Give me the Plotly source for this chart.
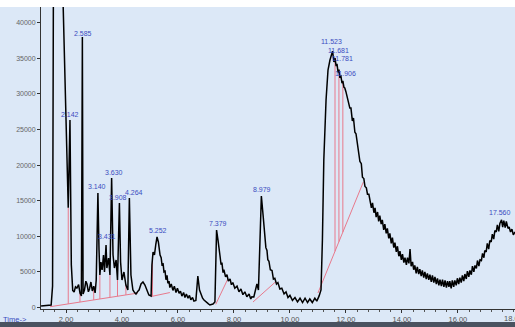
import numpy as np
import plotly.graph_objects as go

# ---- chromatogram trace (time in min, abundance), in segments ----
seg1_time = [1.11, 1.20, 1.30, 1.40, 1.47, 1.52, 1.55, 1.60, 1.85, 1.90, 2.02, 2.08, 2.142, 2.19, 2.24,
             2.29, 2.34, 2.39, 2.45, 2.50, 2.55, 2.585, 2.61, 2.66, 2.71, 2.75, 2.80, 2.84, 2.89, 2.94,
             2.99, 3.04, 3.08]
seg1_abund = [210, 250, 190, 280, 350, 3000, 45000, 60000, 60000, 42160, 20700, 14000, 26325, 6000, 2400,
              2180, 2900, 2740, 3200, 2040, 1610, 37980, 1900, 2460, 3700, 3300, 2200, 2600, 3580, 2320,
              3000, 2040, 3860]

seg2_time = [3.14, 3.18, 3.21, 3.25, 3.29, 3.34, 3.375, 3.431, 3.46, 3.52, 3.57, 3.63, 3.68, 3.73, 3.79,
             3.84, 3.908, 3.95, 4.00, 4.07, 4.14, 4.21, 4.264, 4.32, 4.39, 4.45, 4.50, 4.57, 4.61, 4.68,
             4.75, 4.82, 4.89, 4.96, 5.04]
seg2_abund = [16080, 8070, 4560, 6390, 5265, 7370, 4980, 8775, 5545, 6950, 4560, 18180, 7370, 5545, 6670,
              3860, 14670, 6390, 3860, 4980, 3160, 2460, 15370, 4560, 2460, 2100, 1900, 2300, 2460, 3300,
              3580, 3160, 2320, 1755, 1615]

seg3_time = [5.07, 5.11, 5.16, 5.21, 5.252, 5.30, 5.36, 5.40, 5.43, 5.47, 5.50, 5.54, 5.57, 5.61, 5.64,
             5.68, 5.71, 5.76, 5.82, 5.87, 5.93, 5.98, 6.04, 6.09, 6.14, 6.20, 6.25, 6.30, 6.36, 6.41,
             6.46, 6.52, 6.57, 6.64, 6.68, 6.71, 6.77, 6.82, 6.88, 6.93, 6.99, 7.04, 7.09, 7.14, 7.20,
             7.25, 7.32]
seg3_abund = [5970, 7790, 7370, 8915, 9900, 9200, 7370, 7000, 6000, 6100, 5000, 5100, 3900, 4500, 3400,
              3700, 2800, 3300, 2400, 3000, 2100, 2700, 2000, 2300, 1600, 2100, 1400, 1900, 1300, 1700,
              1100, 1400, 900, 1000, 3860, 4420, 2460, 1755, 1300, 1050, 800, 630, 500, 350, 450,
              490, 770]

seg4_time = [7.379, 7.43, 7.47, 7.50, 7.54, 7.57, 7.61, 7.64, 7.70, 7.75, 7.80, 7.86, 7.91, 7.96, 8.03,
             8.11, 8.18, 8.25, 8.32, 8.39, 8.46, 8.54, 8.60, 8.64, 8.71, 8.79, 8.82, 8.875, 8.93]
seg4_abund = [10880, 9475, 7800, 7300, 6000, 6300, 4900, 5300, 4300, 4600, 3700, 4000, 3200, 3500, 2700,
              3000, 2200, 2600, 1800, 2200, 1500, 1900, 1200, 1500, 1475, 2740, 3300, 2460, 9475]

seg5_time = [8.979, 9.04, 9.11, 9.14, 9.18, 9.21, 9.25, 9.30, 9.36, 9.41, 9.46, 9.52, 9.57, 9.64, 9.71,
             9.79, 9.86, 9.93, 10.00, 10.09, 10.18, 10.27, 10.36, 10.45, 10.54, 10.63, 10.71, 10.80,
             10.89, 10.96, 11.04, 11.11]
seg5_abund = [15650, 12990, 9475, 8400, 8000, 6700, 6500, 5300, 5200, 4000, 4100, 3300, 3500, 2600, 2700,
              1900, 2200, 1400, 1700, 1000, 1400, 800, 1300, 700, 1300, 700, 1200, 700,
              1300, 900, 1600, 2460]

seg6_time = [11.16, 11.21, 11.29, 11.36, 11.43, 11.48, 11.523, 11.57, 11.61, 11.65, 11.68, 11.72, 11.75,
             11.78, 11.82, 11.86, 11.89, 11.93, 11.96, 12.00, 12.05, 12.09, 12.14, 12.18, 12.23, 12.27,
             12.32, 12.36, 12.41, 12.45, 12.50, 12.55, 12.59, 12.64, 12.68, 12.73, 12.77, 12.82, 12.86]
seg6_abund = [9475, 20700, 29130, 33345, 34750, 35600, 36000, 34470, 35030, 33900, 34200, 33000, 33400,
              32400, 32500, 31500, 31800, 30900, 30820, 30300, 29500, 29000, 28000, 28000, 26200, 26600,
              24600, 24400, 23000, 22400, 20500, 20200, 18300, 18100, 17000, 16800, 15900, 15900, 15000]

seg7_time = [12.91, 12.95, 13.00, 13.04, 13.08, 13.13, 13.17, 13.21, 13.26, 13.30, 13.35, 13.39, 13.44,
             13.48, 13.53, 13.57, 13.62, 13.66, 13.71, 13.75, 13.80, 13.84, 13.89, 13.93, 13.98, 14.02,
             14.07, 14.11, 14.16, 14.20, 14.25, 14.29, 14.33, 14.38, 14.42, 14.46, 14.51, 14.55, 14.60,
             14.64, 14.69, 14.73, 14.78, 14.82, 14.87, 14.91, 14.96, 15.00, 15.05, 15.09, 15.14, 15.18,
             15.23, 15.27, 15.32, 15.36, 15.41, 15.45, 15.50, 15.54, 15.59, 15.63, 15.68, 15.71, 15.76,
             15.80, 15.85, 15.89, 15.94, 15.98, 16.03, 16.07, 16.12, 16.16, 16.21, 16.25, 16.30, 16.34,
             16.39, 16.43, 16.48, 16.52, 16.57, 16.61, 16.66, 16.70, 16.75, 16.79, 16.84, 16.88, 16.93,
             16.96, 17.01, 17.05, 17.10, 17.14, 17.19, 17.23, 17.28, 17.32, 17.37, 17.41, 17.46, 17.50,
             17.56, 17.60, 17.64, 17.69, 17.73, 17.79, 17.83, 17.88, 17.93, 17.98, 18.04]
seg7_abund = [14000, 14700, 13300, 14000, 12700, 13400, 12100, 12900, 11700, 12300, 10900, 11700, 10400,
              11100, 9700, 10400, 9000, 9800, 8400, 9100, 7800, 8600, 7200, 7900, 6700, 7500,
              6300, 7000, 6000, 7000, 6200, 8200, 5800, 6400, 5300, 5900, 4800, 5700, 4700,
              5400, 4400, 5200, 4200, 5000, 4000, 4800, 3900, 4600, 3600, 4500, 3500, 4300,
              3300, 4100, 3100, 3900, 3000, 3900, 2900, 3800, 2800, 3700, 2900, 3700, 2700,
              3800, 2900, 3800, 3100, 4100, 3300, 4200, 3500, 4500, 3700, 4700, 4000, 5100,
              4300, 5200, 4600, 5800, 5000, 5900, 5500, 6600, 5800, 6700, 6600, 7600, 7000,
              8000, 7800, 9000, 8200, 9400, 9200, 10300, 9600, 10800, 10600, 11600, 10700, 11800,
              12300, 11300, 12200, 11200, 12100, 11100, 11300, 10600, 11000, 10200, 10600]

# ---- integration baselines (pink) ----
base_t0 = [1.43, 5.05, 7.35, 8.68, 11.00]
base_v0 = [110, 1550, 450, 770, 2035]
base_t1 = [4.57, 5.71, 7.78, 9.50, 12.62]
base_v1 = [2030, 2100, 4000, 3650, 17600]
drop_t = [2.08, 2.50, 2.99, 3.21, 3.57, 3.84, 4.14, 5.09, 11.61, 11.75, 11.89]
drop_top = [14000, 2040, 3000, 4560, 4560, 3860, 3160, 6700, 35030, 33400, 31800]
drop_seg = [0, 0, 0, 0, 0, 0, 0, 1, 4, 4, 4]

# ---- peak labels ----
peak_text = ["2.142", "2.585", "3.140", "3.431", "3.630", "3.908", "4.264", "5.252",
             "7.379", "8.979", "11.523", "11.681", "11.781", "11.906", "17.560"]
peak_t = [2.14, 2.60, 3.11, 3.46, 3.71, 3.85, 4.44, 5.29, 7.43, 9.00, 11.50, 11.72, 11.87, 11.99, 17.50]
peak_v = [27030, 38540, 16920, 10000, 19025, 15515, 16200, 10880, 11860, 16500, 37280, 36100, 34900, 32800, 13270]

x_ticks = [2, 4, 6, 8, 10, 12, 14, 16, 18]
x_ticklabels = ["2.00", "4.00", "6.00", "8.00", "10.00", "12.00", "14.00", "16.00", "18.00"]
y_ticks = [0, 5000, 10000, 15000, 20000, 25000, 30000, 35000, 40000]
y_ticklabels = ["0", "5000", "10000", "15000", "20000", "25000", "30000", "35000", "40000"]

time = seg1_time + seg2_time + seg3_time + seg4_time + seg5_time + seg6_time + seg7_time
abundance = seg1_abund + seg2_abund + seg3_abund + seg4_abund + seg5_abund + seg6_abund + seg7_abund
assert len(time) == len(abundance)

BG = "#dce8f7"
PINK = "#e8798c"
BLUE = "#3b4cc0"
FONT = "Liberation Sans, Arial, sans-serif"

fig = go.Figure()

for a, b, c, d in zip(base_t0, base_v0, base_t1, base_v1):
    fig.add_trace(go.Scatter(x=[a, c], y=[b, d], mode="lines",
                             line=dict(color=PINK, width=1), hoverinfo="skip", showlegend=False))
for t, top, s in zip(drop_t, drop_top, drop_seg):
    base = float(np.interp(t, [base_t0[s], base_t1[s]], [base_v0[s], base_v1[s]]))
    fig.add_trace(go.Scatter(x=[t, t], y=[base, top], mode="lines",
                             line=dict(color=PINK, width=1), hoverinfo="skip", showlegend=False))

fig.add_trace(go.Scatter(x=time, y=abundance, mode="lines",
                         line=dict(color="black", width=1.5), showlegend=False))

for txt, t, v in zip(peak_text, peak_t, peak_v):
    fig.add_annotation(x=t, y=v, text=txt, showarrow=False,
                       font=dict(family=FONT, size=7, color=BLUE))

# last x tick label (partly beyond the right edge, as in the original)
fig.add_annotation(x=x_ticks[-1], xref="x", y=0, yref="paper", yanchor="top", yshift=-3,
                   text=x_ticklabels[-1], showarrow=False,
                   font=dict(family=FONT, size=7.5, color="#555"))

fig.add_annotation(xref="paper", yref="paper", x=-0.084, y=-0.036, xanchor="left", yanchor="middle",
                   text="Time->", showarrow=False,
                   font=dict(family=FONT, size=7.5, color=BLUE))

fig.add_shape(type="rect", xref="paper", yref="paper", x0=-0.1, x1=1.01, y0=1.0, y1=1.03,
              fillcolor="white", line=dict(width=0), layer="below")
fig.add_shape(type="rect", xref="paper", yref="paper", x0=-0.1, x1=1.01, y0=-0.043, y1=-0.07,
              fillcolor="#4a5260", line=dict(width=0))

fig.update_layout(
    width=515, height=327,
    margin=dict(l=41, r=0, t=7, b=18, pad=0),
    paper_bgcolor=BG, plot_bgcolor=BG,
    xaxis=dict(range=[1.107, 18.04], tickvals=x_ticks[:-1], ticktext=x_ticklabels[:-1],
               showgrid=False, zeroline=False, showline=True, linecolor="#333", linewidth=1,
               ticks="outside", ticklen=3, tickcolor="#333",
               minor=dict(dtick=0.4, tick0=0, ticks="outside", ticklen=2, tickcolor="#555"),
               tickfont=dict(family=FONT, size=7.5, color="#555"), automargin=False),
    yaxis=dict(range=[-210, 42190], tickvals=y_ticks, ticktext=y_ticklabels,
               showgrid=False, zeroline=False, showline=True, linecolor="#333", linewidth=1,
               ticks="outside", ticklen=3, tickcolor="#333",
               tickfont=dict(family=FONT, size=7, color="#666"), automargin=False),
)

fig.write_html("out.html", config={"displayModeBar": False},
               post_script="document.body.style.margin='0';document.body.style.padding='0';"
                           "document.body.style.background='" + BG + "';")
